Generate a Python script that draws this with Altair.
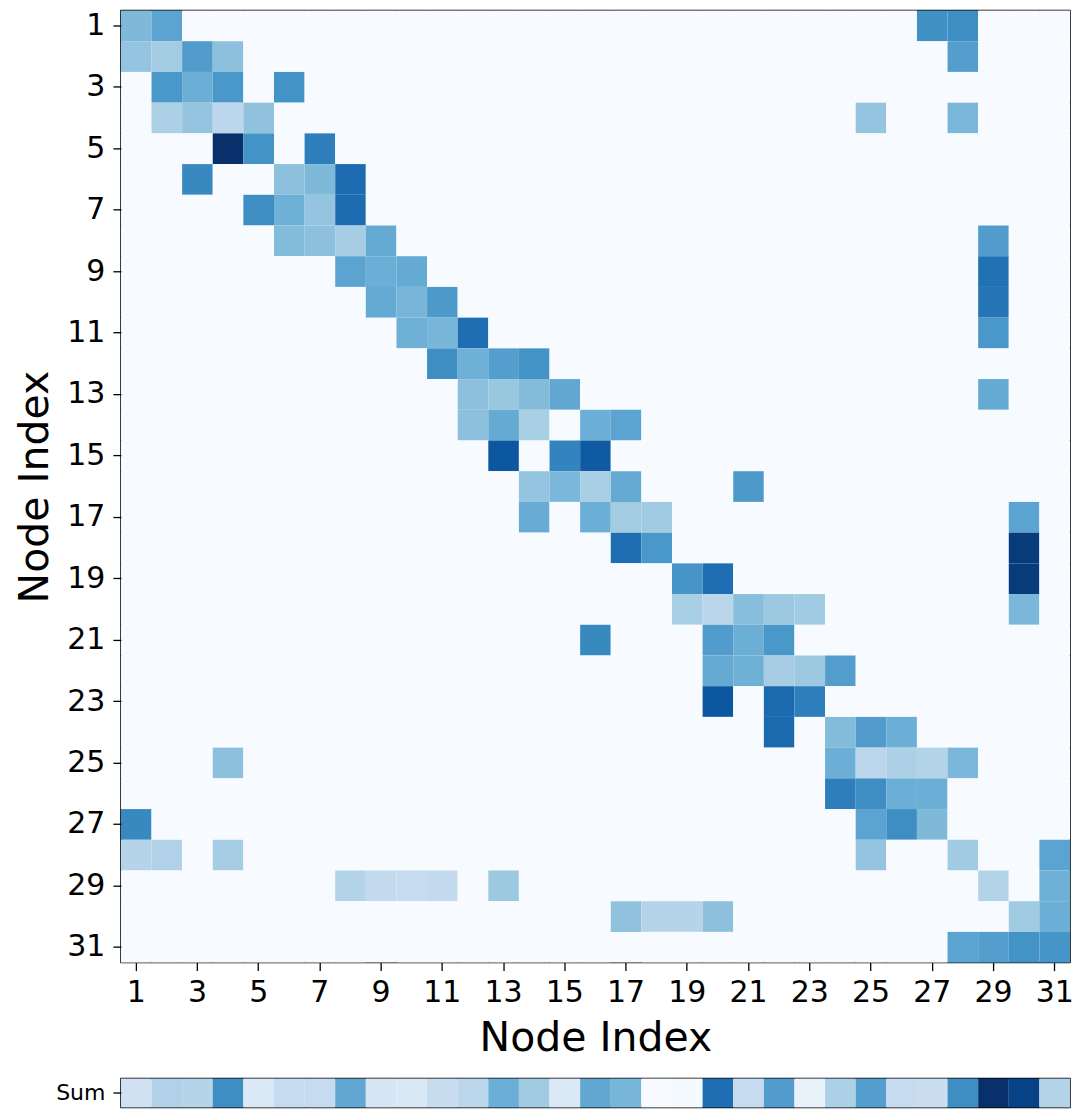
import altair as alt
import pandas as pd

# ---- data ----
nodes = list(range(1, 32))
tick_values = list(range(1, 32, 2))

edge_rows = [1, 1, 1, 1,
             2, 2, 2, 2, 2,
             3, 3, 3, 3,
             4, 4, 4, 4, 4, 4,
             5, 5, 5,
             6, 6, 6, 6,
             7, 7, 7, 7,
             8, 8, 8, 8, 8,
             9, 9, 9, 9,
             10, 10, 10, 10,
             11, 11, 11, 11,
             12, 12, 12, 12,
             13, 13, 13, 13, 13,
             14, 14, 14, 14, 14,
             15, 15, 15,
             16, 16, 16, 16, 16,
             17, 17, 17, 17, 17,
             18, 18, 18,
             19, 19, 19,
             20, 20, 20, 20, 20, 20,
             21, 21, 21, 21,
             22, 22, 22, 22, 22,
             23, 23, 23,
             24, 24, 24, 24,
             25, 25, 25, 25, 25, 25,
             26, 26, 26, 26,
             27, 27, 27, 27,
             28, 28, 28, 28, 28, 28,
             29, 29, 29, 29, 29, 29, 29,
             30, 30, 30, 30, 30, 30,
             31, 31, 31, 31]
edge_cols = [1, 2, 27, 28,
             1, 2, 3, 4, 28,
             2, 3, 4, 6,
             2, 3, 4, 5, 25, 28,
             4, 5, 7,
             3, 6, 7, 8,
             5, 6, 7, 8,
             6, 7, 8, 9, 29,
             8, 9, 10, 29,
             9, 10, 11, 29,
             10, 11, 12, 29,
             11, 12, 13, 14,
             12, 13, 14, 15, 29,
             12, 13, 14, 16, 17,
             13, 15, 16,
             14, 15, 16, 17, 21,
             14, 16, 17, 18, 30,
             17, 18, 30,
             19, 20, 30,
             19, 20, 21, 22, 23, 30,
             16, 20, 21, 22,
             20, 21, 22, 23, 24,
             20, 22, 23,
             22, 24, 25, 26,
             4, 24, 25, 26, 27, 28,
             24, 25, 26, 27,
             1, 25, 26, 27,
             1, 2, 4, 25, 28, 31,
             8, 9, 10, 11, 13, 29, 31,
             17, 18, 19, 20, 30, 31,
             28, 29, 30, 31]
edge_vals = [0.45, 0.55, 0.63, 0.64,
             0.40, 0.36, 0.58, 0.42, 0.57,
             0.60, 0.50, 0.60, 0.62,
             0.33, 0.40, 0.28, 0.41, 0.40, 0.46,
             1.00, 0.62, 0.70,
             0.66, 0.42, 0.45, 0.77,
             0.64, 0.49, 0.40, 0.77,
             0.44, 0.42, 0.35, 0.52, 0.58,
             0.55, 0.50, 0.52, 0.75,
             0.52, 0.47, 0.59, 0.74,
             0.49, 0.47, 0.76, 0.60,
             0.64, 0.49, 0.57, 0.62,
             0.42, 0.39, 0.44, 0.53, 0.52,
             0.42, 0.52, 0.34, 0.50, 0.55,
             0.85, 0.68, 0.84,
             0.40, 0.46, 0.34, 0.52, 0.59,
             0.51, 0.50, 0.36, 0.37, 0.55,
             0.76, 0.60, 0.96,
             0.61, 0.76, 0.96,
             0.34, 0.29, 0.43, 0.38, 0.37, 0.46,
             0.66, 0.58, 0.50, 0.60,
             0.52, 0.49, 0.35, 0.38, 0.57,
             0.85, 0.78, 0.70,
             0.78, 0.44, 0.58, 0.50,
             0.42, 0.50, 0.28, 0.33, 0.31, 0.46,
             0.70, 0.64, 0.50, 0.50,
             0.66, 0.55, 0.64, 0.45,
             0.30, 0.32, 0.35, 0.40, 0.37, 0.55,
             0.31, 0.26, 0.25, 0.26, 0.38, 0.31, 0.49,
             0.41, 0.30, 0.30, 0.42, 0.37, 0.50,
             0.55, 0.57, 0.62, 0.61]

sum_vals = [0.20, 0.32, 0.30, 0.64, 0.14, 0.25, 0.25, 0.53, 0.17, 0.15,
            0.24, 0.28, 0.50, 0.37, 0.14, 0.53, 0.47, 0.00, 0.01, 0.76,
            0.25, 0.58, 0.07, 0.33, 0.57, 0.25, 0.23, 0.64, 1.00, 0.93,
            0.31]
sum_label = "Sum"

# matplotlib "Blues" colour stops
blues_stops = [0.0, 0.125, 0.25, 0.375, 0.5, 0.625, 0.75, 0.875, 1.0]
blues_colors = ["#f7fbff", "#deebf7", "#c6dbef", "#9ecae1", "#6baed6",
                "#4292c6", "#2171b5", "#08519c", "#08306b"]

# ---- tables ----
lookup = {(r, c): v for r, c, v in zip(edge_rows, edge_cols, edge_vals)}
grid = pd.DataFrame(
    [{"row": r, "col": c, "value": lookup.get((r, c), 0.0)} for r in nodes for c in nodes]
)
sum_df = pd.DataFrame({"col": nodes, "value": sum_vals, "label": [sum_label] * len(nodes)})

FONT = "DejaVu Sans"
color_scale = alt.Scale(domain=blues_stops, range=blues_colors, interpolate="rgb")
band = alt.Scale(paddingInner=0, paddingOuter=0)

heat = alt.Chart(grid).mark_rect().encode(
    x=alt.X("col:O", scale=band,
            axis=alt.Axis(values=tick_values, labelAngle=0, title="Node Index",
                          labelFontSize=30, titleFontSize=41, tickSize=8,
                          labelPadding=7, titlePadding=11)),
    y=alt.Y("row:O", scale=band,
            axis=alt.Axis(values=tick_values, title="Node Index",
                          labelFontSize=30, titleFontSize=41, tickSize=8,
                          labelPadding=8, titlePadding=8,
                          minExtent=56, maxExtent=56)),
    color=alt.Color("value:Q", scale=color_scale, legend=None),
).properties(width=950, height=953)

sum_chart = alt.Chart(sum_df).mark_rect().encode(
    x=alt.X("col:O", scale=band, axis=None),
    y=alt.Y("label:N", axis=alt.Axis(title=None, labelFontSize=22, tickSize=8,
                                     labelPadding=8)),
    color=alt.Color("value:Q", scale=color_scale, legend=None),
).properties(width=950, height=29)

chart = alt.vconcat(heat, sum_chart, spacing=116, bounds="flush").properties(
    padding={"left": 6, "top": 1, "right": 0, "bottom": 0}
).configure_view(
    stroke="black", strokeWidth=1.5, strokeJoin="round"
).configure_axis(
    labelFont=FONT, titleFont=FONT, labelColor="black", titleColor="black",
    tickColor="black", tickWidth=1.3, domain=False, grid=False,
    titleFontWeight="normal"
)

chart.save("out.html", embed_options={"renderer": "svg", "actions": False})
